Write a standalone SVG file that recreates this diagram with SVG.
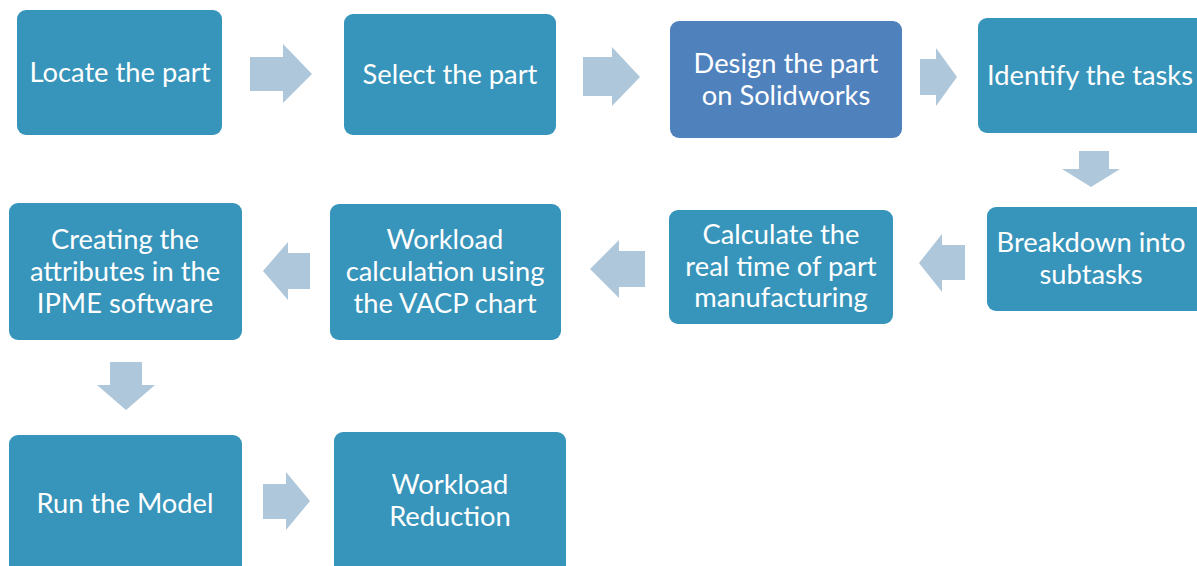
<svg xmlns="http://www.w3.org/2000/svg" width="1197" height="566" viewBox="0 0 1197 566">
  <style>
    .box { fill: #3794ba; }
    .box.alt { fill: #4f81bd; }
    .lbl { fill: #ffffff; font-family: Lato, "Open Sans", sans-serif; font-size: 27.3px; text-anchor: middle; }
    .arr { fill: #aec7da; }
  </style>
  <rect width="1197" height="566" fill="#ffffff"/>

  <!-- connectors: block arrows between steps -->
  <g id="connectors">
    <polygon class="arr" points="250,57 283,57 283,44 312,74 283,103 283,91 250,91"/>
    <polygon class="arr" points="583,57 612,57 612,47 640,77 612,106 612,96 583,96"/>
    <polygon class="arr" points="920,59 936,59 936,48 957,77 936,106 936,95 920,95"/>
    <polygon class="arr" points="1079,151 1109,151 1109,169 1120,169 1091,187 1062,169 1079,169"/>
    <polygon class="arr" points="965,245 942,245 942,234 919,263 942,292 942,280 965,280"/>
    <polygon class="arr" points="645,251 619,251 619,240 590,269 619,298 619,287 645,287"/>
    <polygon class="arr" points="310,253 288,253 288,242 263,271 288,300 288,289 310,289"/>
    <polygon class="arr" points="110,362 142,362 142,385 155,385 126,410 97,385 110,385"/>
    <polygon class="arr" points="263,484 286,484 286,472 310,501 286,530 286,519 263,519"/>
  </g>

  <g id="n1">
    <rect class="box" x="17" y="10" width="205" height="125" rx="9"/>
    <text class="lbl" x="120" y="82">Locate the part</text>
  </g>
  <g id="n2">
    <rect class="box" x="344" y="14" width="212" height="121" rx="9"/>
    <text class="lbl" x="450" y="84">Select the part</text>
  </g>
  <g id="n3">
    <rect class="box alt" x="670" y="21" width="232" height="117" rx="9"/>
    <text class="lbl" x="786" y="73">Design the part</text>
    <text class="lbl" x="786" y="105">on Solidworks</text>
  </g>
  <g id="n4">
    <rect class="box" x="978" y="18" width="230" height="115" rx="9"/>
    <text class="lbl" x="1090" y="85">Identify the tasks</text>
  </g>
  <g id="n5">
    <rect class="box" x="987" y="207" width="221" height="104" rx="9"/>
    <text class="lbl" x="1091" y="252">Breakdown into</text>
    <text class="lbl" x="1091" y="284">subtasks</text>
  </g>
  <g id="n6">
    <rect class="box" x="669" y="210" width="224" height="114" rx="9"/>
    <text class="lbl" x="781" y="244">Calculate the</text>
    <text class="lbl" x="781" y="276">real time of part</text>
    <text class="lbl" x="781" y="307">manufacturing</text>
  </g>
  <g id="n7">
    <rect class="box" x="330" y="204" width="231" height="136" rx="9"/>
    <text class="lbl" x="445" y="249">Workload</text>
    <text class="lbl" x="445" y="281">calculation using</text>
    <text class="lbl" x="445" y="313">the VACP chart</text>
  </g>
  <g id="n8">
    <rect class="box" x="9" y="203" width="233" height="137" rx="9"/>
    <text class="lbl" x="125" y="249">Creating the</text>
    <text class="lbl" x="125" y="281">attributes in the</text>
    <text class="lbl" x="125" y="313">IPME software</text>
  </g>
  <g id="n9">
    <rect class="box" x="9" y="435" width="233" height="145" rx="9"/>
    <text class="lbl" x="125" y="513">Run the Model</text>
  </g>
  <g id="n10">
    <rect class="box" x="334" y="432" width="232" height="148" rx="9"/>
    <text class="lbl" x="450" y="494">Workload</text>
    <text class="lbl" x="450" y="526">Reduction</text>
  </g>
</svg>
